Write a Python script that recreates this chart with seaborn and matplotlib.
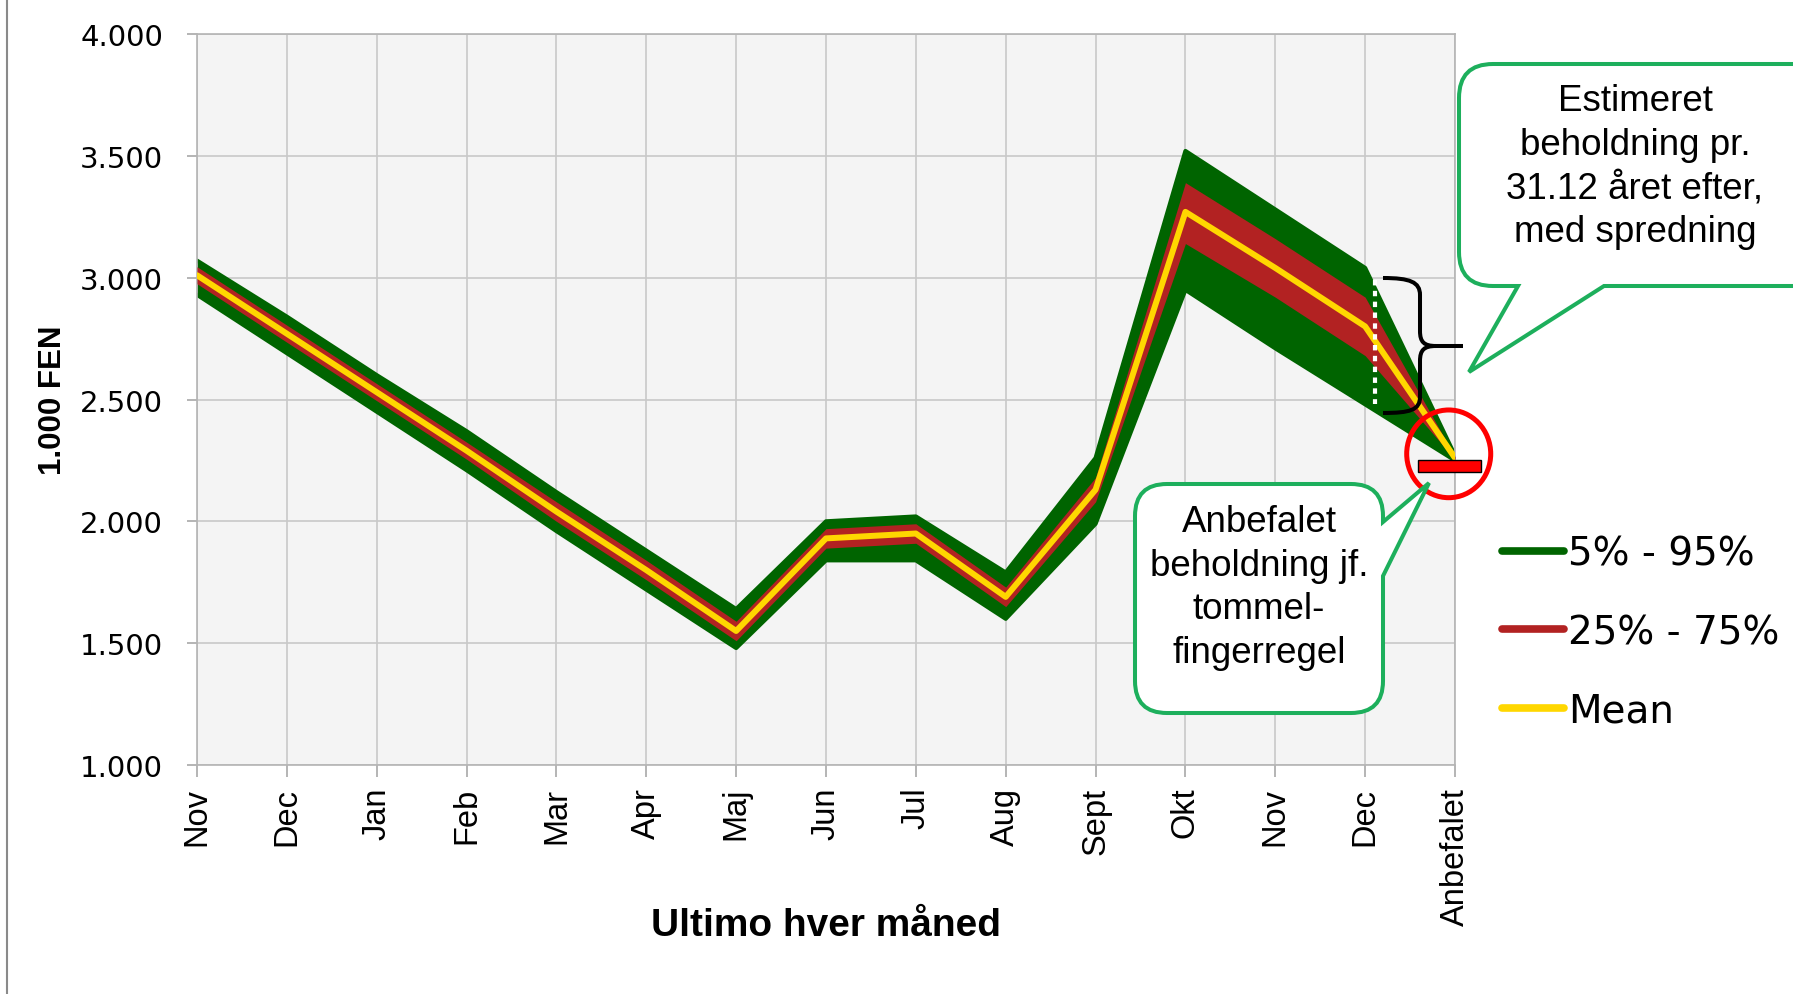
import matplotlib
matplotlib.use("Agg")
import matplotlib.pyplot as plt
import matplotlib.patches as mpatches
import matplotlib.transforms as mtransforms
from matplotlib.path import Path
from matplotlib.lines import Line2D
import numpy as np
import pandas as pd
import seaborn as sns

# values (1.000 FEN)
months = ["Nov", "Dec", "Jan", "Feb", "Mar", "Apr", "Maj", "Jun", "Jul",
          "Aug", "Sept", "Okt", "Nov", "Dec", "Anbefalet"]
mean = [3.01, 2.77, 2.53, 2.29, 2.04, 1.80, 1.55, 1.93, 1.95, 1.69, 2.13, 3.27, 3.04, 2.80, 2.26]
p05 = [2.93, 2.69, 2.45, 2.21, 1.96, 1.72, 1.48, 1.84, 1.84, 1.60, 1.99, 2.95, 2.71, 2.48, 2.25]
p25 = [2.975, 2.735, 2.495, 2.255, 2.00, 1.76, 1.51, 1.89, 1.91, 1.65, 2.08, 3.14, 2.92, 2.68, 2.255]
p75 = [3.045, 2.805, 2.565, 2.325, 2.08, 1.84, 1.59, 1.97, 1.99, 1.73, 2.18, 3.39, 3.16, 2.92, 2.265]
p95 = [3.07, 2.84, 2.60, 2.37, 2.12, 1.88, 1.64, 2.00, 2.02, 1.79, 2.26, 3.52, 3.28, 3.04, 2.27]
anbefalet = 2.227

yticks = [1.0, 1.5, 2.0, 2.5, 3.0, 3.5, 4.0]
ytick_labels = ["1.000", "1.500", "2.000", "2.500", "3.000", "3.500", "4.000"]
legend_labels = ["5% - 95%", "25% - 75%", "Mean"]

GREEN = "#006400"
RED = "#B22222"
YELLOW = "#FFD700"
CALLOUT = "#1DAF5C"

W, H = 1793, 995

sns.set_style("whitegrid")
plt.rcParams["font.family"] = ["DejaVu Sans"]
plt.rcParams["text.color"] = "black"
plt.rcParams["axes.labelcolor"] = "black"
plt.rcParams["xtick.color"] = "black"
plt.rcParams["ytick.color"] = "black"

df = pd.DataFrame({"pos": np.arange(len(months)), "mean": mean,
                   "p05": p05, "p25": p25, "p75": p75, "p95": p95})

fig = plt.figure(figsize=(W / 100, H / 100), dpi=100)
ax = fig.add_axes([197 / W, 1 - 766 / H, (1455 - 197) / W, (766 - 35) / H])
# pixel coords (y down) -> figure
pix = mtransforms.Affine2D().scale(1 / W, -1 / H).translate(0, 1) + fig.transFigure

ax.set_facecolor("#F4F4F4")
ax.grid(True, color="#C8C8C8", lw=1.2)
ax.set_axisbelow(True)
for s in ax.spines.values():
    s.set_color("#B4B4B4")
    s.set_linewidth(1.2)

ax.fill_between(df["pos"], df["p05"], df["p95"], color=GREEN, lw=0, zorder=2)
for col in ["p05", "p95"]:
    sns.lineplot(data=df, x="pos", y=col, ax=ax, color=GREEN, lw=3,
                 solid_capstyle="round", zorder=2)
ax.fill_between(df["pos"], df["p25"], df["p75"], color=RED, lw=0, zorder=3)
sns.lineplot(data=df, x="pos", y="mean", ax=ax, color=YELLOW, lw=4.3,
             solid_capstyle="round", zorder=4)

# recommended level (red bar in a circle)
last = df["pos"].iloc[-1]
ax.bar(last - 0.06, 0.048, bottom=anbefalet - 0.024, width=0.7, color="#FF0000",
       edgecolor="black", lw=1, zorder=5, clip_on=False)
ax.add_patch(mpatches.Ellipse((last - 0.07, anbefalet + 0.05), 0.935, 0.36, fill=False,
                              edgecolor="#FF0000", lw=3.6, zorder=6, clip_on=False))

ax.set_xlim(0, len(months) - 1)
ax.set_ylim(1, 4)
ax.set_xticks(df["pos"])
ax.set_xticklabels(months, rotation=90, fontsize=23.5, family="Liberation Sans")
ax.set_yticks(yticks)
ax.set_yticklabels(ytick_labels, fontsize=21)
ax.tick_params(axis="x", length=8.6, width=1.2, color="#A8A8A8", labelcolor="black",
               pad=7, bottom=True)
ax.tick_params(axis="y", length=7.5, width=1.2, color="#A8A8A8", labelcolor="black",
               pad=17, left=True)

ax.set_xlabel("Ultimo hver måned", fontsize=28, fontweight="bold", family="Liberation Sans")
ax.xaxis.label.set_va("center")
ax.xaxis.set_label_coords(0.5, -0.219)
ax.set_ylabel("1.000 FEN", fontsize=22.5, fontweight="bold", family="Liberation Sans")
ax.yaxis.label.set_va("center")
ax.yaxis.set_label_coords(-0.1145, 0.5)

# curly brace and dotted marker at Dec
brace = Path([(1383, 279), (1410, 279), (1420, 283), (1420, 296), (1420, 332),
              (1420, 343), (1424, 347), (1436, 347), (1463, 347),
              (1436, 347), (1424, 347), (1420, 351), (1420, 362), (1420, 398),
              (1420, 411), (1410, 414), (1383, 414)],
             [Path.MOVETO, Path.CURVE4, Path.CURVE4, Path.CURVE4, Path.LINETO,
              Path.CURVE4, Path.CURVE4, Path.CURVE4, Path.LINETO,
              Path.MOVETO, Path.CURVE4, Path.CURVE4, Path.CURVE4, Path.LINETO,
              Path.CURVE4, Path.CURVE4, Path.CURVE4])
fig.add_artist(mpatches.PathPatch(brace, transform=pix, fill=False, edgecolor="black",
                                  lw=2.9, zorder=8))
fig.add_artist(Line2D([1375, 1375], [281, 405], transform=pix, color="white", lw=3,
                      linestyle=(0, (1.3, 1.3)), zorder=8))


def callout(x0, y0, x1, y1, r, side, a, b, tip):
    verts = [(x0 + r, y0)]
    codes = [Path.MOVETO]

    def line(p):
        verts.append(p)
        codes.append(Path.LINETO)

    def corner(c, p):
        verts.extend([c, p])
        codes.extend([Path.CURVE3, Path.CURVE3])

    line((x1 - r, y0))
    corner((x1, y0), (x1, y0 + r))
    if side == "right":
        line((x1, a))
        line(tip)
        line((x1, b))
    line((x1, y1 - r))
    corner((x1, y1), (x1 - r, y1))
    if side == "bottom":
        line((b, y1))
        line(tip)
        line((a, y1))
    line((x0 + r, y1))
    corner((x0, y1), (x0, y1 - r))
    line((x0, y0 + r))
    corner((x0, y0), (x0 + r, y0))
    verts.append((x0 + r, y0))
    codes.append(Path.CLOSEPOLY)
    return Path(verts, codes)


fig.add_artist(mpatches.PathPatch(callout(1459, 65, 1840, 287, 34, "bottom", 1518, 1604, (1469, 373)),
                                  transform=pix, facecolor="white", edgecolor=CALLOUT,
                                  lw=2.9, zorder=10))
fig.text(1635, 167, "Estimeret\nbeholdning pr.\n31.12 året efter,\nmed spredning",
         transform=pix, ha="center", va="center", fontsize=26.5, family="Liberation Sans",
         linespacing=1.33, zorder=11)

fig.add_artist(mpatches.PathPatch(callout(1135, 485, 1383, 714, 32, "right", 523, 577, (1429, 484)),
                                  transform=pix, facecolor="white", edgecolor=CALLOUT,
                                  lw=2.9, zorder=10))
fig.text(1259, 588, "Anbefalet\nbeholdning jf.\ntommel-\nfingerregel",
         transform=pix, ha="center", va="center", fontsize=26.5, family="Liberation Sans",
         linespacing=1.33, zorder=11)

handles = [Line2D([], [], color=c, lw=5.5, solid_capstyle="round") for c in (GREEN, RED, YELLOW)]
fig.legend(handles, legend_labels, loc="upper left", bbox_to_anchor=(1502 / W, 1 - 536 / H),
           frameon=False, fontsize=28, handlelength=1.6, handletextpad=0.1,
           labelspacing=1.03, borderpad=0, borderaxespad=0)

# slide frame line on the left
fig.add_artist(Line2D([7 / W, 7 / W], [0, 1], color="#8A8A8A", lw=1.5))

fig.savefig("out.png", dpi=100)
